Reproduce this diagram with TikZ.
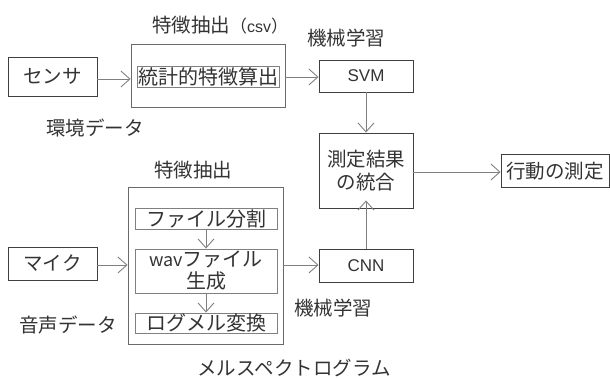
\documentclass[tikz,border=0pt]{standalone}
\usepackage{fontspec}
\setmainfont{Liberation Sans}
\newfontfamily\cjk{Noto Sans CJK JP}
\usetikzlibrary{arrows.meta}
\definecolor{txt}{HTML}{333333}
\definecolor{bord}{HTML}{3F3F3F}
\definecolor{lbord}{HTML}{6A6A6A}
\definecolor{ibord}{HTML}{808080}
\definecolor{ln}{HTML}{7F7F7F}
\tikzset{
  box/.style={draw=bord, line width=0.9pt, minimum width=#1, inner sep=0pt, text=txt, font=\cjk\fontsize{19.5}{23}\selectfont},
  bigbox/.style={draw=lbord, line width=0.9pt, inner sep=0pt},
  ibox/.style={draw=ibord, line width=0.9pt, inner sep=0pt, minimum width=142pt, text=txt, font=\cjk\fontsize{20}{23}\selectfont, align=center},
  lbl/.style={text=txt, font=\cjk\fontsize{19.5}{23}\selectfont, inner sep=0pt},
  arr/.style={draw=ln, line width=0.9pt, -{Straight Barb[length=9pt, width=16pt, line width=0.9pt]}},
  lat/.style={font=\fontsize{17}{20}\selectfont}
}
\begin{document}
\begin{tikzpicture}[x=1pt, y=-1pt]
\useasboundingbox (0,0) rectangle (610,378);
% top row
\node[box=89pt, minimum height=39pt] (sensor) at (52.5,76.5) {センサ};
\node[bigbox, minimum width=154pt, minimum height=63pt] (topfeat) at (208,75.5) {};
\node[ibox, minimum height=21pt] (stat) at (208,76.5) {統計的特徴算出};
\node[box=94pt, minimum height=32pt, lat] (svm) at (366,76) {SVM};
\node[box=94pt, minimum height=75pt, align=center] (merge) at (366,170.5) {測定結果\\の統合};
\node[box=108pt, minimum height=33pt] (act) at (555,171) {行動の測定};
\node[box=94pt, minimum height=33pt, lat] (cnn) at (366,265.5) {CNN};
\node[box=89pt, minimum height=33pt] (mic) at (52.5,263.5) {マイク};
\node[bigbox, minimum width=155pt, minimum height=157pt] (lowfeat) at (205.5,265.5) {};
\node[ibox, minimum height=21pt] (split) at (206,218.5) {ファイル分割};
\node[ibox, minimum height=44pt] (wav) at (206,271) {\fontsize{18}{23}\selectfont wav{\cjk\fontsize{20}{23}\selectfont ファイル}\\[-1pt]生成};
\node[ibox, minimum height=20pt] (logmel) at (206,323) {ログメル変換};
% labels
\node[lbl] (l1) at (220,25) {特徴抽出{\fontsize{17}{20}\selectfont （}{\rmfamily\fontsize{16}{18}\selectfont csv}{\fontsize{17}{20}\selectfont ）}};
\node[lbl] (l2) at (346,38) {機械学習};
\node[lbl] (l3) at (95,128) {環境データ};
\node[lbl] (l4) at (193,170) {特徴抽出};
\node[lbl] (l5) at (333,308) {機械学習};
\node[lbl] (l6) at (68,325) {音声データ};
\node[lbl] (l7) at (294,368) {メルスペクトログラム};
% arrows
\draw[arr] (sensor.east |- 0,79) -- (topfeat.west |- 0,79);
\draw[arr] (topfeat.east |- 0,77) -- (svm.west |- 0,77);
\draw[arr] (svm.south) -- (merge.north);
\draw[arr] (cnn.north) -- ([yshift=8pt]merge.south);
\draw[arr] (merge.east |- 0,172) -- (act.west |- 0,172);
\draw[arr] (mic.east |- 0,265) -- (lowfeat.west |- 0,265);
\draw[arr] (lowfeat.east |- 0,265) -- (cnn.west |- 0,265);
\draw[arr] (split.south) -- (wav.north);
\draw[arr] (wav.south) -- (logmel.north);
\end{tikzpicture}
\end{document}
